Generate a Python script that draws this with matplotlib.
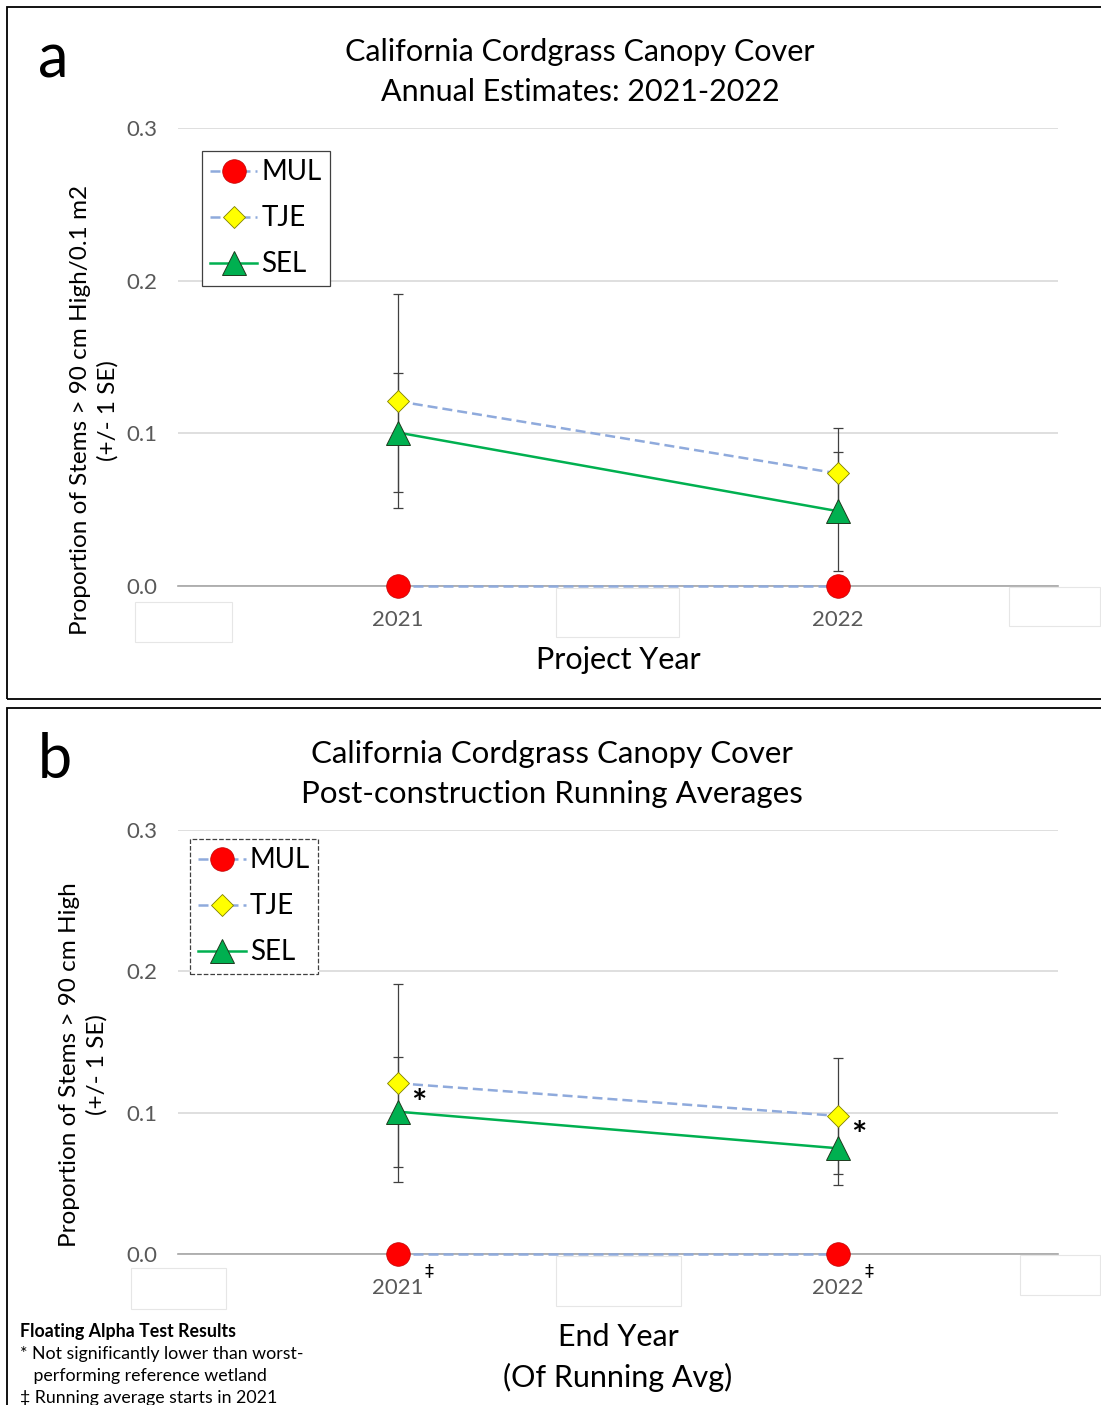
import numpy as np
import matplotlib
matplotlib.use('Agg')
import matplotlib.pyplot as plt
from matplotlib.patches import Rectangle

plt.rcParams['font.family'] = ['Lato', 'DejaVu Sans']

years = ['2021', '2022']

# panel a: annual estimates
mul_a = [0.0, 0.0]
tje_a = [0.121, 0.0737]
sel_a = [0.1005, 0.049]
mul_a_se = [0.0, 0.0]
tje_a_se = [0.070, 0.030]
sel_a_se = [0.039, 0.039]

# panel b: running averages
mul_b = [0.0, 0.0]
tje_b = [0.1208, 0.0977]
sel_b = [0.1007, 0.0748]
mul_b_se = [0.0, 0.0]
tje_b_se = [0.070, 0.041]
sel_b_se = [0.039, 0.026]

blue = '#8faadc'
green = '#00b050'
grid_c = '#d9d9d9'
tick_c = '#595959'


def draw_panel(ax, mul, tje, sel, mul_se, tje_se, sel_se, legend_pos, legend_ls):
    x = np.arange(len(years))
    for vals, se in [(tje, tje_se), (sel, sel_se)]:
        ax.errorbar(x, vals, yerr=se, fmt='none', ecolor='#404040', elinewidth=0.9,
                    capsize=3.5, capthick=0.9, zorder=3)
    ax.plot(x, mul, color=blue, lw=1.8, dashes=(4, 2), marker='o', ms=17,
            mfc='#ff0000', mec='#c00000', mew=0.5, label='MUL', zorder=4, clip_on=False)
    ax.plot(x, tje, color=blue, lw=1.8, dashes=(4, 2), marker='D', ms=11.5,
            mfc='#ffff00', mec='#7f7f00', mew=0.6, label='TJE', zorder=4)
    ax.plot(x, sel, color=green, lw=1.8, marker='^', ms=17,
            mfc=green, mec='#1e3b1e', mew=0.7, label='SEL', zorder=4)

    ax.set_xlim(-0.5, 1.5)
    ax.set_ylim(0, 0.3)
    ax.set_yticks([0.0, 0.1, 0.2, 0.3])
    ax.set_yticklabels(['0.0', '0.1', '0.2', '0.3'])
    ax.set_xticks(x)
    ax.set_xticklabels(years)
    ax.tick_params(axis='both', length=0, labelsize=16, labelcolor=tick_c)
    ax.tick_params(axis='x', pad=17)
    ax.tick_params(axis='y', pad=15)
    ax.yaxis.grid(True, color=grid_c, lw=1.2)
    ax.set_axisbelow(True)
    for s in ['top', 'right', 'left']:
        ax.spines[s].set_visible(False)
    ax.spines['bottom'].set_color('#a6a6a6')
    ax.spines['bottom'].set_linewidth(1.2)

    leg = ax.legend(loc='upper left', bbox_to_anchor=legend_pos, fontsize=20,
                    handlelength=1.7, handletextpad=0.15, borderpad=0.3,
                    labelspacing=0.72, fancybox=False, edgecolor='#404040',
                    framealpha=1, borderaxespad=0)
    leg.get_frame().set_linewidth(0.9)
    leg.get_frame().set_linestyle(legend_ls)


def px_box(fig, x0, y0, x1, y1):
    # faint leftover boxes below the axis, given in pixel corners
    fig.add_artist(Rectangle((x0 / 1101, 1 - y1 / 1405), (x1 - x0) / 1101, (y1 - y0) / 1405,
                             transform=fig.transFigure, fill=False, ec='#e6e6e6', lw=0.8))


fig = plt.figure(figsize=(11.01, 14.05), dpi=100)

# panel borders
fig.add_artist(Rectangle((7 / 1101, 1 - 699 / 1405), 1.0, 692 / 1405,
                         transform=fig.transFigure, fill=False, ec='black', lw=1.3))
fig.add_artist(Rectangle((7 / 1101, -0.05), 1.0, 1 - 708 / 1405 + 0.05,
                         transform=fig.transFigure, fill=False, ec='black', lw=1.3))

px_box(fig, 135, 602, 232, 642)
px_box(fig, 556, 588, 679, 637)
px_box(fig, 1009, 587, 1100, 626)
px_box(fig, 131, 1268, 226, 1309)
px_box(fig, 556, 1256, 681, 1306)
px_box(fig, 1020, 1255, 1100, 1295)

ax1 = fig.add_axes([178 / 1101, 1 - 586 / 1405, 880 / 1101, 458 / 1405])
draw_panel(ax1, mul_a, tje_a, sel_a, mul_a_se, tje_a_se, sel_a_se, (0.027, 0.95), '-')
ax1.set_xlabel('Project Year', fontsize=22, labelpad=12)
ax1.set_ylabel('Proportion of Stems > 90 cm High/0.1 m2\n(+/- 1 SE)', fontsize=17.5,
               linespacing=1.35)
ax1.yaxis.set_label_coords(-0.068, 0.384)
fig.text(580 / 1101, 1 - 72 / 1405, 'California Cordgrass Canopy Cover\nAnnual Estimates: 2021-2022',
         ha='center', va='center', fontsize=22, linespacing=1.5)
fig.text(38 / 1101, 1 - 60 / 1405, 'a', fontsize=44, ha='left', va='center')

ax2 = fig.add_axes([178 / 1101, 1 - 1254 / 1405, 880 / 1101, 424 / 1405])
draw_panel(ax2, mul_b, tje_b, sel_b, mul_b_se, tje_b_se, sel_b_se, (0.0136, 0.979), '--')
ax2.set_xlabel('End Year\n(Of Running Avg)', fontsize=22, labelpad=18, linespacing=1.5)
ax2.set_ylabel('Proportion of Stems > 90 cm High\n(+/- 1 SE)', fontsize=17.5,
               linespacing=1.35)
ax2.yaxis.set_label_coords(-0.08, 0.446)
fig.text(552 / 1101, 1 - 774 / 1405, 'California Cordgrass Canopy Cover\nPost-construction Running Averages',
         ha='center', va='center', fontsize=22.5, linespacing=1.5)
fig.text(38 / 1101, 1 - 760 / 1405, 'b', fontsize=44, ha='left', va='center')

# significance marks
for i in range(len(years)):
    ax2.annotate('*', (i, tje_b[i]), xytext=(15, -15), textcoords='offset points',
                 fontsize=26, ha='center', va='center', fontweight='bold')
    ax2.annotate('\u2021', (i, 0), xytext=(22, -12), textcoords='offset points',
                 fontsize=13, ha='center', va='center', family=['DejaVu Sans'])

fig.text(20 / 1101, 1 - 1331 / 1405, 'Floating Alpha Test Results', fontsize=12.8,
         fontweight='bold', va='center')
fig.text(20 / 1101, 1 - 1365 / 1405,
         '* Not significantly lower than worst-\n   performing reference wetland',
         fontsize=12.8, va='center', linespacing=1.4)
fig.text(20 / 1101, 1 - 1398 / 1405, '\u2021 Running average starts in 2021', fontsize=12.8,
         va='center', family=['Lato', 'DejaVu Sans'])

fig.savefig('out.png', dpi=100)
